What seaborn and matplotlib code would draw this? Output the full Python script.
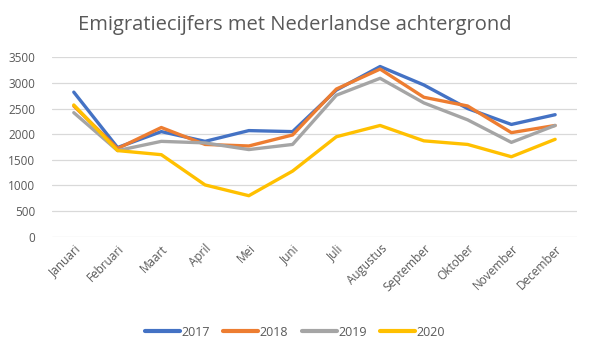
import matplotlib
matplotlib.use('Agg')
import matplotlib.pyplot as plt
import seaborn as sns
import pandas as pd

months = ['Januari', 'Februari', 'Maart', 'April', 'Mei', 'Juni', 'Juli',
          'Augustus', 'September', 'Oktober', 'November', 'December']
y2017 = [2820, 1740, 2050, 1860, 2070, 2050, 2860, 3320, 2960, 2500, 2190, 2380]
y2018 = [2550, 1720, 2130, 1800, 1770, 1985, 2880, 3270, 2720, 2550, 2030, 2170]
y2019 = [2420, 1680, 1860, 1830, 1700, 1800, 2760, 3090, 2610, 2280, 1840, 2170]
y2020 = [2570, 1680, 1600, 1010, 800, 1280, 1950, 2170, 1870, 1800, 1560, 1900]
years = ['2017', '2018', '2019', '2020']
colors = ['#4472C4', '#ED7D31', '#A5A5A5', '#FFC000']

df = pd.DataFrame({'maand': months * 4,
                   'jaar': [y for y in years for _ in months],
                   'aantal': y2017 + y2018 + y2019 + y2020})

sns.set_style('white')
plt.rcParams['font.family'] = ['Open Sans', 'DejaVu Sans']
txt = '#595959'

fig = plt.figure(figsize=(5.9, 3.51), dpi=100)
ax = fig.add_axes([0.088, 0.3256, 0.89, 0.5112])
sns.lineplot(data=df, x='maand', y='aantal', hue='jaar', palette=colors,
             linewidth=2.4, sort=False, ax=ax)

ax.set_xlim(-0.5, 11.5)
ax.set_ylim(0, 3500)
ax.set_yticks(range(0, 3501, 500))
ax.set_xticks(range(len(months)))
ax.set_xticklabels(months, rotation=45, ha='right', rotation_mode='anchor')
ax.tick_params(axis='both', length=0, labelsize=8.5, labelcolor=txt)
ax.tick_params(axis='y', pad=12)
ax.tick_params(axis='x', pad=4)
ax.grid(axis='y', color='#D9D9D9', linewidth=0.9)
ax.set_axisbelow(True)
for s in ax.spines.values():
    s.set_visible(False)
ax.set_xlabel('')
ax.set_ylabel('')

fig.text(0.5, 0.93, 'Emigratiecijfers met Nederlandse achtergrond',
         ha='center', va='center', fontsize=14.5, color=txt)
leg = ax.legend(loc='center', bbox_to_anchor=(0.5, 0.054),
                bbox_transform=fig.transFigure, ncol=4, frameon=False,
                fontsize=9, labelcolor=txt, handlelength=2.8,
                handletextpad=0.1, columnspacing=1.1)
for h in leg.get_lines():
    h.set_linewidth(3)

fig.savefig('out.png', dpi=100)
